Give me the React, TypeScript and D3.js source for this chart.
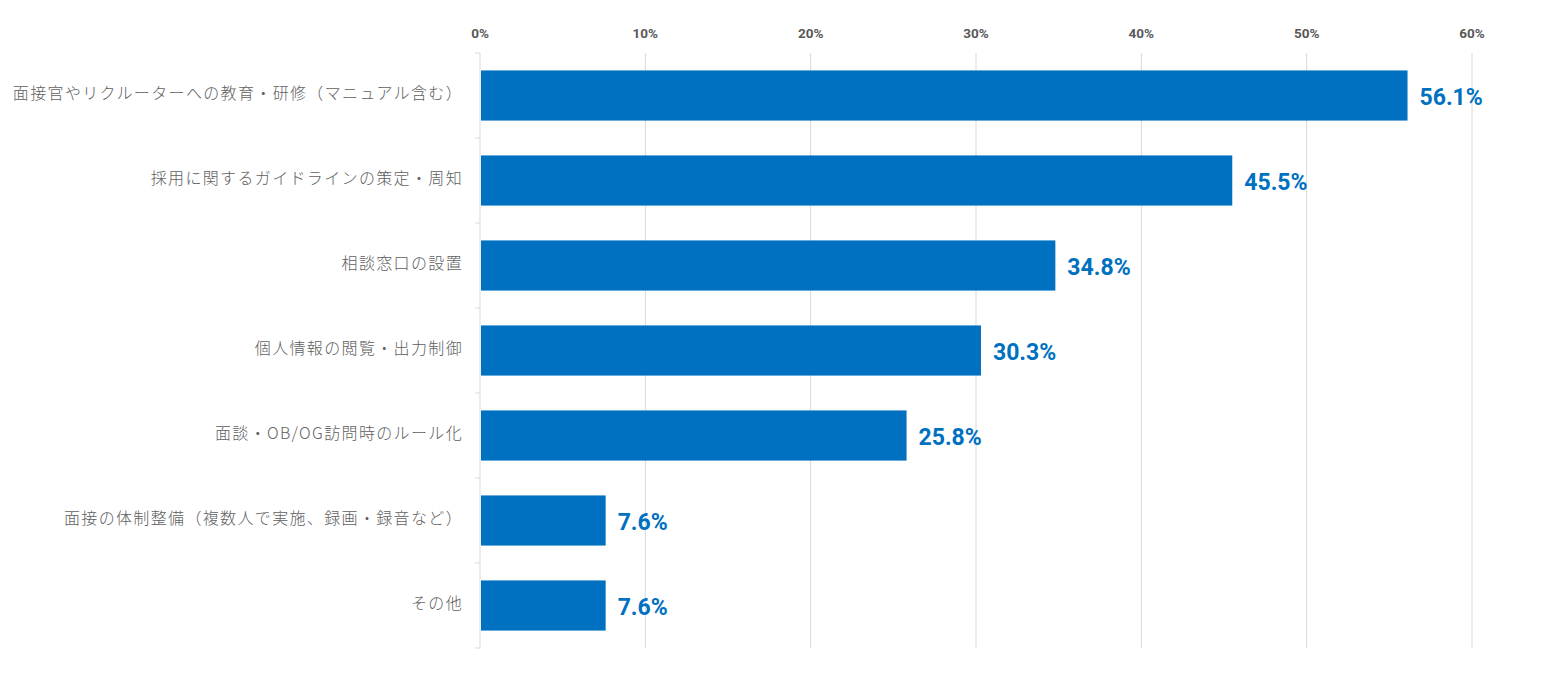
import React from 'react';
import * as d3 from 'd3';

// 採用時の対策 (複数回答)
const categories = [
  '面接官やリクルーターへの教育・研修（マニュアル含む）',
  '採用に関するガイドラインの策定・周知',
  '相談窓口の設置',
  '個人情報の閲覧・出力制御',
  '面談・OB/OG訪問時のルール化',
  '面接の体制整備（複数人で実施、録画・録音など）',
  'その他',
];
const values = [56.1, 45.5, 34.8, 30.3, 25.8, 7.6, 7.6];
const tickValues = [0, 10, 20, 30, 40, 50, 60];

const W = 1552;
const H = 674;
const margin = { top: 53, right: 80, bottom: 26, left: 480 };

const App = () => {
  const x = d3.scaleLinear()
    .domain([0, 60])
    .range([margin.left, margin.left + 992]);
  const y = d3.scaleBand()
    .domain(categories)
    .range([margin.top, H - margin.bottom])
    .paddingInner(0.41)
    .paddingOuter(0.205);
  const step = y.step();
  const bandTop = (c: string) => (y(c) as number) - (step - y.bandwidth()) / 2;
  const jp = '"Noto Sans CJK JP", "Noto Sans", sans-serif';
  const num = 'Roboto, "Liberation Sans", sans-serif';

  return (
    <svg width={W} height={H} style={{ position: 'absolute', left: 0, top: 0 }}>
      <rect width={W} height={H} fill="#ffffff" />
      {/* grid */}
      {tickValues.slice(1).map(t => (
        <line key={t} x1={x(t)} x2={x(t)} y1={margin.top} y2={H - margin.bottom}
          stroke="#d9d9d9" strokeWidth={1} />
      ))}
      {tickValues.map(t => (
        <text key={'t' + t} x={x(t)} y={38} textAnchor="middle"
          fontFamily={num} fontWeight={700} fontSize={13.5} fill="#595959">{t}%</text>
      ))}
      {/* category axis */}
      <line x1={margin.left} x2={margin.left} y1={margin.top} y2={H - margin.bottom}
        stroke="#d9d9d9" strokeWidth={1} />
      {categories.map(c => (
        <line key={'k' + c} x1={margin.left - 5} x2={margin.left} y1={bandTop(c)} y2={bandTop(c)}
          stroke="#d9d9d9" strokeWidth={1} />
      ))}
      <line x1={margin.left - 5} x2={margin.left} y1={H - margin.bottom} y2={H - margin.bottom}
        stroke="#d9d9d9" strokeWidth={1} />
      {categories.map((c, i) => (
        <g key={c}>
          <rect x={x(0) + 1} y={y(c)} width={x(values[i]) - x(0) - 1} height={y.bandwidth()}
            fill="#0070c0" />
          <text x={margin.left - 17} y={(y(c) as number) + y.bandwidth() / 2 - 2} dy="0.35em"
            textAnchor="end" fontFamily={jp} fontWeight={300} fontSize={16} letterSpacing={1.35}
            fill="#606060">{c}</text>
          <text x={x(values[i]) + 12} y={(y(c) as number) + y.bandwidth() / 2 + 1} dy="0.35em"
            fontFamily={num} fontWeight={700} fontSize={23} fill="#0070c0">{values[i].toFixed(1)}%</text>
        </g>
      ))}
    </svg>
  );
};

export default App;
